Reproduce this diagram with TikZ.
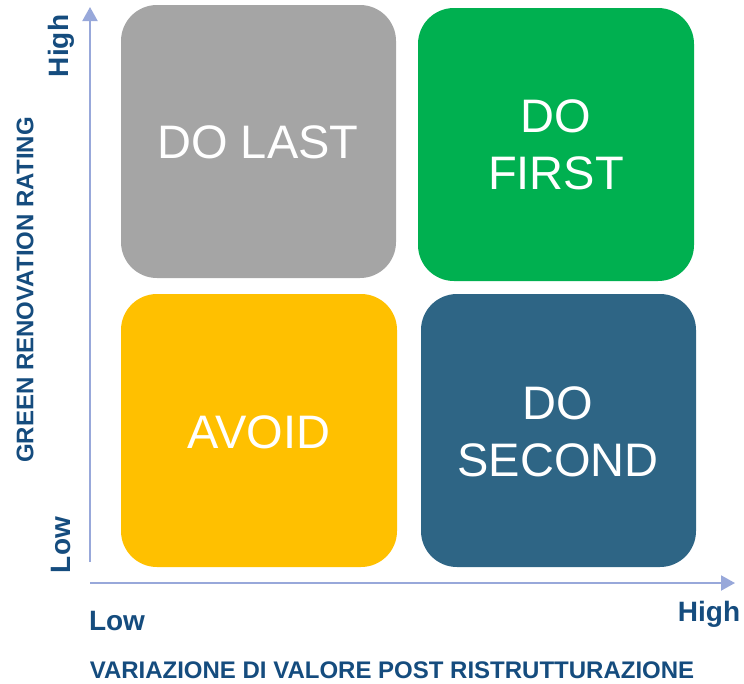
\documentclass[tikz,border=0pt]{standalone}
\usepackage{fontspec}
\setmainfont{Liberation Sans}
\usetikzlibrary{arrows.meta}

\definecolor{axiscol}{HTML}{98A8DA}
\definecolor{labelcol}{HTML}{154C7E}
\definecolor{lastcol}{HTML}{A5A5A5}
\definecolor{firstcol}{HTML}{00B050}
\definecolor{avoidcol}{HTML}{FFC000}
\definecolor{secondcol}{HTML}{2E6585}

\tikzset{
  quad/.style={rounded corners=36pt, inner sep=0pt},
  quadtext/.style={text=white, font=\fontsize{47}{57}\selectfont, align=center},
  axislabel/.style={text=labelcol, font=\bfseries\fontsize{28}{32}\selectfont, inner sep=0pt},
  axistitle/.style={text=labelcol, font=\bfseries\fontsize{24}{28}\selectfont, inner sep=0pt},
  axisline/.style={draw=axiscol, line width=2pt, -{Triangle[width=15pt,length=14pt]}}
}

\begin{document}
\begin{tikzpicture}[x=1pt,y=-1pt]
\useasboundingbox (0,0) rectangle (744,683);
% quadrants
\fill[lastcol,quad] (121,5) rectangle (396,278);
\fill[firstcol,quad] (418,8) rectangle (694,281);
\fill[avoidcol,quad] (121,294) rectangle (397,567);
\fill[secondcol,quad] (421,294) rectangle (696,567);
\node[quadtext] (last) at (258,142) {DO LAST};
\node[quadtext] (first) at (556,145) {DO\\FIRST};
\node[quadtext] (avoid) at (259,432) {AVOID};
\node[quadtext] (second) at (558,432) {DO\\SECOND};
% axes
\coordinate (ybot) at (90,562);
\coordinate (ytop) at (90,7);
\coordinate (xstart) at (90,583);
\coordinate (xend) at (735,583);
\draw[axisline] (ybot) -- (ytop);
\draw[axisline] (xstart) -- (xend);
% labels
\node[axislabel,rotate=90] (yhigh) at (61,46) {High};
\node[axislabel,rotate=90] (ylow) at (61,545) {Low};
\node[axislabel] (xlow) at (117,621) {Low};
\node[axislabel] (xhigh) at (709,614) {High};
\node[axistitle] (xtitle) at (392,670) {VARIAZIONE DI VALORE POST RISTRUTTURAZIONE};
\node[axistitle,rotate=90] (ytitle) at (25,290) {GREEN RENOVATION RATING};
\end{tikzpicture}
\end{document}
